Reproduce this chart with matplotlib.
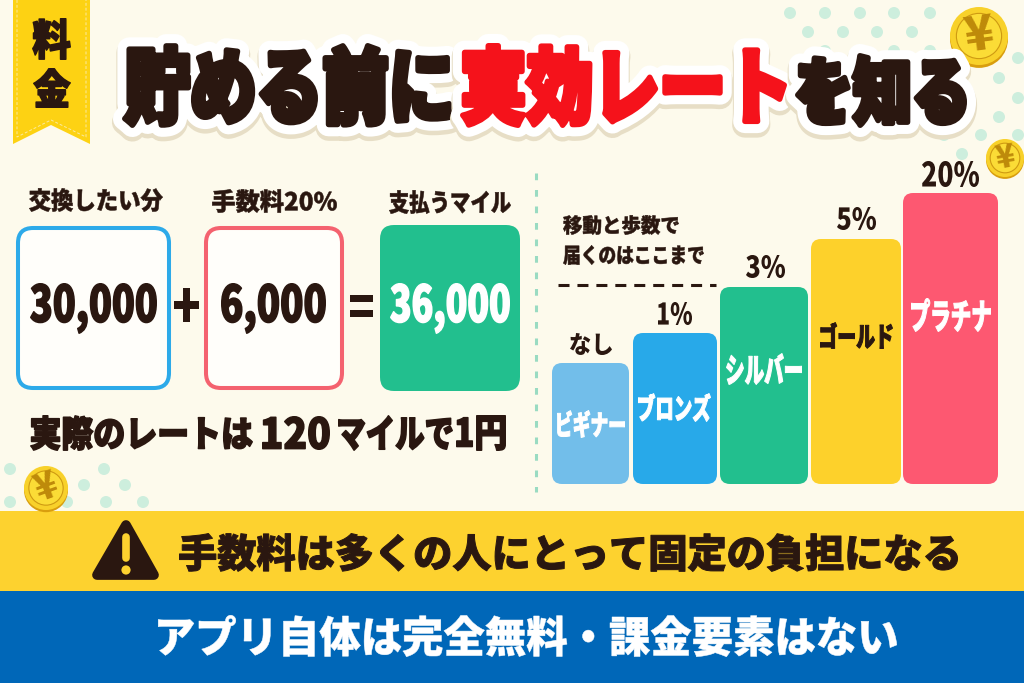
import matplotlib
matplotlib.use("Agg")
import matplotlib.pyplot as plt
from matplotlib.patches import FancyBboxPatch, Polygon, Circle, Rectangle
from matplotlib.font_manager import FontProperties
from matplotlib.textpath import TextPath
from matplotlib.transforms import Affine2D
import matplotlib.patheffects as pe

# ---- data ----
title_parts = ["貯める前に", "実効レート", "を知る"]
badge_chars = ["料", "金"]
box_labels = ["交換したい分", "手数料20%", "支払うマイル"]
box_values = [30000, 6000, 36000]
rate_parts = ["実際のレートは", "120", "マイルで", "1円"]
note_lines = ["移動と歩数で", "届くのはここまで"]
tiers = ["ビギナー", "ブロンズ", "シルバー", "ゴールド", "プラチナ"]
fee_labels = ["なし", "1%", "3%", "5%", "20%"]
bar_heights = [121, 151, 197, 245, 291]
band_warning = "手数料は多くの人にとって固定の負担になる"
band_free = "アプリ自体は完全無料・課金要素はない"

# ---- style ----
DARK = "#2A1710"
RED = "#F5121B"
BG = "#FDFAEC"
bar_colors = ["#72BEEA", "#28A9E9", "#22BF8E", "#FDD12B", "#FD5871"]
tier_text_colors = ["white", "white", "white", DARK, "white"]
bar_spans = [(552, 629), (633, 717), (720, 808), (811, 901), (903, 998)]
tier_boxes = [(557, 625, 410, 438), (638, 711, 393, 422), (726, 802, 353, 385), (820, 893, 322, 349), (911, 991, 298, 332)]
fee_boxes = [(570, 612, 333, 355), (658, 692, 302, 325), (746, 785, 255, 278), (837, 876, 207, 230), (922, 979, 161, 187)]
BASE = 484
H = 683

fig = plt.figure(figsize=(10.24, 6.83), dpi=100, facecolor=BG)
ax = fig.add_axes([0, 0, 1, 1])
ax.set_xlim(0, 1024)
ax.set_ylim(H, 0)
ax.axis("off")

fp = FontProperties(family="Noto Sans CJK JP", weight="black")


class Stretched(pe.Stroke):
    """Stroke that also stretches the text vertically about a display-space centre."""

    def __init__(self, cy, sy, **kw):
        super().__init__(**kw)
        self._stretch = Affine2D().translate(0, -cy).scale(1, sy).translate(0, cy)

    def draw_path(self, renderer, gc, tpath, affine, rgbFace):
        super().draw_path(renderer, gc, tpath, affine + self._stretch, rgbFace)


def fit(s, x0, x1, y0, y1, color=DARK, z=10, bold_px=0, halo=False):
    """Place real text so its ink spans x0..x1 and y0..y1 (pixels, y down)."""
    bb = TextPath((0, 0), s, size=100, prop=fp).get_extents()
    px = 100 * (x1 - x0 - bold_px) / bb.width
    k = px / 100
    yc = (y0 + y1) / 2
    x = x0 + bold_px / 2 - bb.x0 * k
    y = yc + (bb.y0 + bb.y1) / 2 * k
    sy = (y1 - y0 - bold_px) / (bb.height * k)
    t = ax.text(x, y, s, fontproperties=fp, color=color, ha="left", va="baseline", zorder=z)
    t.set_fontsize(px * 0.72)
    cy = H - yc
    fx = []
    if halo:
        fx.append(Stretched(cy, sy, offset=(0, -2.5), linewidth=18.5, foreground="#E7DEC6"))
        fx.append(Stretched(cy, sy, linewidth=17, foreground="white"))
    fx.append(Stretched(cy, sy, linewidth=bold_px * 0.72, foreground=color))
    t.set_path_effects(fx)
    return t


def coin(cx, cy, r, rot):
    ax.add_patch(Circle((cx, cy + r * 0.1), r, fc="#D99E0E", ec="none", zorder=3))
    ax.add_patch(Circle((cx, cy), r, fc="#F8D12A", ec="none", zorder=3.1))
    ax.add_patch(Circle((cx, cy), r * 0.78, fc="#FBDC36", ec="#CE9A12", lw=0.8, zorder=3.2))
    ax.text(cx, cy, "¥", fontproperties=fp, fontsize=r * 1.2, color="#BE8A0A",
            rotation=rot, ha="center", va="center", zorder=3.3)


# background dots
dots = [(790, 13), (825, 13), (860, 13), (894, 13), (930, 13), (808, 32), (843, 32), (877, 32), (912, 32),
        (825, 51), (894, 51), (930, 51), (1018, 58), (999, 78), (1018, 98), (999, 117), (944, 135),
        (981, 135), (1018, 135), (962, 154), (10, 469), (104, 469), (84, 485), (125, 485), (10, 502),
        (67, 502), (106, 502), (143, 502)]
for d in dots:
    ax.add_patch(Circle(d, 6, fc="#CDEEDD", ec="none", zorder=1))

coin(979, 36, 29, 8)
coin(1005, 158, 19, 10)
coin(46, 488, 22, 20)

# ribbon
ax.add_patch(Polygon([(13, 0), (90, 0), (90, 144), (51, 125), (13, 144)], fc="#FDD213", ec="none", zorder=2))
ax.plot([17, 17, 51, 86, 86], [0, 137, 120, 137, 0], color="#FBE9A0", lw=0.7, ls=(0, (3, 2)), zorder=2.1)
fit(badge_chars[0], 32, 71, 18, 60, z=5, bold_px=1.5)
fit(badge_chars[1], 33, 71, 68, 108, z=5, bold_px=1.5)

# title
title_boxes = [(122, 452, 43, 128), (460, 787, 43, 128), (795, 967, 53, 128)]
title_colors = [DARK, RED, DARK]
for s, (a, b, c0, c1), col in zip(title_parts, title_boxes, title_colors):
    fit(s, a, b, c0, c1, color=col, z=6, bold_px=5.5, halo=True)

# equation boxes
ax.add_patch(FancyBboxPatch((18, 228), 151, 160, boxstyle="round,pad=0,rounding_size=15",
                            fc="#FFFEFA", ec="#2DAAE9", lw=2.9, zorder=2))
ax.add_patch(FancyBboxPatch((206, 228), 136, 160, boxstyle="round,pad=0,rounding_size=15",
                            fc="#FFFEFA", ec="#F4626F", lw=2.9, zorder=2))
ax.add_patch(FancyBboxPatch((380, 225), 140, 166, boxstyle="round,pad=0,rounding_size=14",
                            fc="#22BF8E", ec="none", zorder=2))
fit(box_labels[0], 29, 163, 188, 212, bold_px=0.5)
fit(box_labels[1], 212, 337, 189, 213, bold_px=0.5)
fit(box_labels[2], 389, 511, 190, 214, bold_px=0.5)
fit(f"{box_values[0]:,}", 30, 157, 283, 334, bold_px=1.5)
fit(f"{box_values[1]:,}", 221, 326, 283, 334, bold_px=1.5)
fit(f"{box_values[2]:,}", 390, 510, 283, 334, color="white", bold_px=1.5)
fit("+", 174, 199, 288, 322)
fit("=", 350, 373, 295, 317)
fit(rate_parts[0], 30, 253, 415, 451, bold_px=1.5)
fit(rate_parts[1], 262, 330, 416, 450, bold_px=1.5)
fit(rate_parts[2], 338, 453, 415, 451, bold_px=1.5)
fit(rate_parts[3], 456, 506, 415, 451, bold_px=1.5)

# separator
ax.plot([536, 536], [173, 492], color="#9ADBC2", lw=2.2, ls=(0, (2.2, 3.2)), zorder=1.5)

# tier bars (heights come from bar_heights)
for h, (a, b), col in zip(bar_heights, bar_spans, bar_colors):
    ax.add_patch(FancyBboxPatch((a, BASE - h), b - a, h, boxstyle="round,pad=0,rounding_size=10",
                                fc=col, ec="none", zorder=2))
for s, (a, b, c0, c1), c in zip(tiers, tier_boxes, tier_text_colors):
    fit(s, a, b, c0, c1, color=c, bold_px=1)
for s, (a, b, c0, c1) in zip(fee_labels, fee_boxes):
    fit(s, a, b, c0, c1)

fit(note_lines[0], 563, 679, 215, 235, bold_px=0.5)
fit(note_lines[1], 563, 704, 245, 265, bold_px=0.5)
ax.plot([558, 716], [285, 285], color=DARK, lw=2.2, ls=(0, (3.6, 2.6)), zorder=4)

# bands
ax.add_patch(Rectangle((0, 511), 1024, 80, fc="#FDD22F", ec="none", zorder=1.6))
ax.add_patch(Rectangle((0, 591), 1024, 92, fc="#0067B8", ec="none", zorder=1.6))
ax.add_patch(Polygon([(126, 525), (97, 575), (154, 575)], fc=DARK, ec=DARK, lw=7, joinstyle="round", zorder=5))
ax.plot([126, 126], [537, 558], color="#FDD22F", lw=5.5, solid_capstyle="round", zorder=6)
ax.add_patch(Circle((126, 570), 4.6, fc="#FDD22F", ec="none", zorder=6))
fit(band_warning, 179, 958, 533, 572, bold_px=1)
fit(band_free, 158, 897, 615, 657, color="white", bold_px=0.5)

fig.savefig("out.png", dpi=100, facecolor=BG)
